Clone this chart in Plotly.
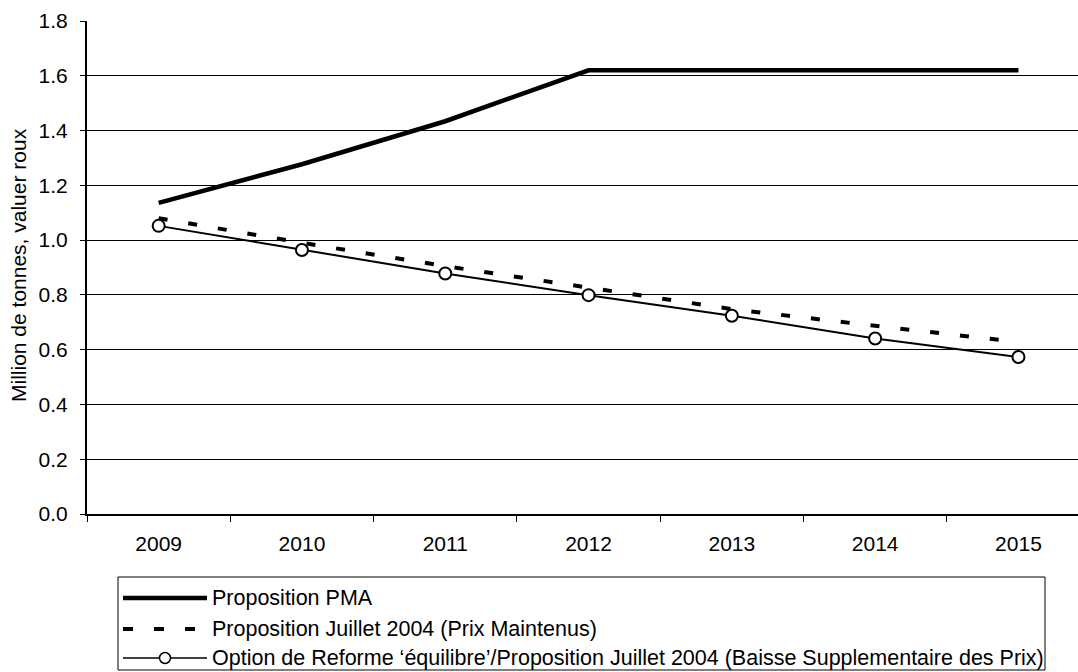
import plotly.graph_objects as go

# Years and projected volumes (million tonnes, raw value)
years = ["2009", "2010", "2011", "2012", "2013", "2014", "2015"]
pma = [1.136, 1.277, 1.434, 1.620, 1.620, 1.620, 1.620]
juillet_prix_maintenus = [1.080, 0.990, 0.905, 0.826, 0.748, 0.687, 0.628]
option_equilibre = [1.052, 0.964, 0.878, 0.799, 0.724, 0.641, 0.573]

series_names = [
    "Proposition PMA",
    "Proposition Juillet 2004 (Prix Maintenus)",
    "Option de Reforme \u2018\u00e9quilibre\u2019/Proposition Juillet 2004 (Baisse Supplementaire des Prix)",
]
y_ticks = [0.0, 0.2, 0.4, 0.6, 0.8, 1.0, 1.2, 1.4, 1.6, 1.8]
y_title = "Million de tonnes, valuer roux"

W, H = 1078, 672
ML, MT, MB = 87, 21, 158
PLOT_W = W - ML
PLOT_H = H - MT - MB
FONT = "Liberation Sans, Arial, sans-serif"
FS = 21
FS_LEGEND = 21.5


def px(x):
    """Pixel column -> paper x."""
    return (x - ML) / PLOT_W


def py(y):
    """Pixel row -> paper y."""
    return (H - MB - y) / PLOT_H


fig = go.Figure()
fig.add_trace(go.Scatter(
    x=years, y=pma, mode="lines", name=series_names[0],
    line=dict(color="black", width=4.5),
))
fig.add_trace(go.Scatter(
    x=years, y=juillet_prix_maintenus, mode="lines", name=series_names[1],
    line=dict(color="black", width=4, dash="9px,21px"),
))
fig.add_trace(go.Scatter(
    x=years, y=option_equilibre, mode="lines+markers", name=series_names[2],
    line=dict(color="black", width=2),
    marker=dict(symbol="circle", size=12, color="white",
                line=dict(color="black", width=2)),
))

# Legend drawn as a boxed key below the plot
shapes = [
    dict(type="rect", xref="paper", yref="paper",
         x0=px(118), x1=px(1045), y0=py(670), y1=py(577),
         line=dict(color="black", width=1), fillcolor="white"),
    dict(type="line", xref="paper", yref="paper",
         x0=px(123), x1=px(207), y0=py(598), y1=py(598),
         line=dict(color="black", width=4.5)),
    dict(type="line", xref="paper", yref="paper",
         x0=px(123), x1=px(199), y0=py(629), y1=py(629),
         line=dict(color="black", width=4, dash="10px,21px")),
    dict(type="line", xref="paper", yref="paper",
         x0=px(123), x1=px(207), y0=py(658), y1=py(658),
         line=dict(color="black", width=1.5)),
    dict(type="circle", xref="paper", yref="paper",
         x0=px(159.5), x1=px(170.5), y0=py(663.5), y1=py(652.5),
         line=dict(color="black", width=1.5), fillcolor="white"),
]
for s in shapes:
    s["layer"] = "above"

annotations = [
    dict(xref="paper", yref="paper", x=px(210), y=py(row_y),
         xanchor="left", yanchor="middle", showarrow=False,
         text=name, font=dict(family=FONT, size=FS_LEGEND, color="black"))
    for name, row_y in zip(series_names, [598, 629, 658])
]
annotations.append(dict(
    xref="paper", yref="paper", x=px(18), y=py(265),
    xanchor="center", yanchor="middle", showarrow=False, textangle=-90,
    text=y_title, font=dict(family=FONT, size=FS, color="black"),
))

fig.update_layout(
    width=W, height=H,
    margin=dict(l=ML, r=0, t=MT, b=MB, pad=0),
    paper_bgcolor="white", plot_bgcolor="white",
    showlegend=False,
    font=dict(family=FONT, size=FS, color="black"),
    shapes=shapes,
    annotations=annotations,
)
fig.update_xaxes(
    type="category", range=[-0.5, -0.5 + PLOT_W / 143.3],
    showgrid=False, showline=True, linecolor="black", linewidth=1.5,
    ticks="outside", tickson="boundaries", ticklen=6, tickcolor="black",
    tickwidth=1, ticklabelstandoff=10, zeroline=False,
)
fig.update_yaxes(
    range=[0, 1.8], tickvals=y_ticks, ticktext=[f"{v:.1f}" for v in y_ticks],
    showgrid=True, gridcolor="black", gridwidth=1,
    showline=True, linecolor="black", linewidth=2,
    ticks="outside", ticklen=5, tickcolor="black", tickwidth=1,
    ticklabelstandoff=8, zeroline=False,
)

fig.write_html("out.html")
